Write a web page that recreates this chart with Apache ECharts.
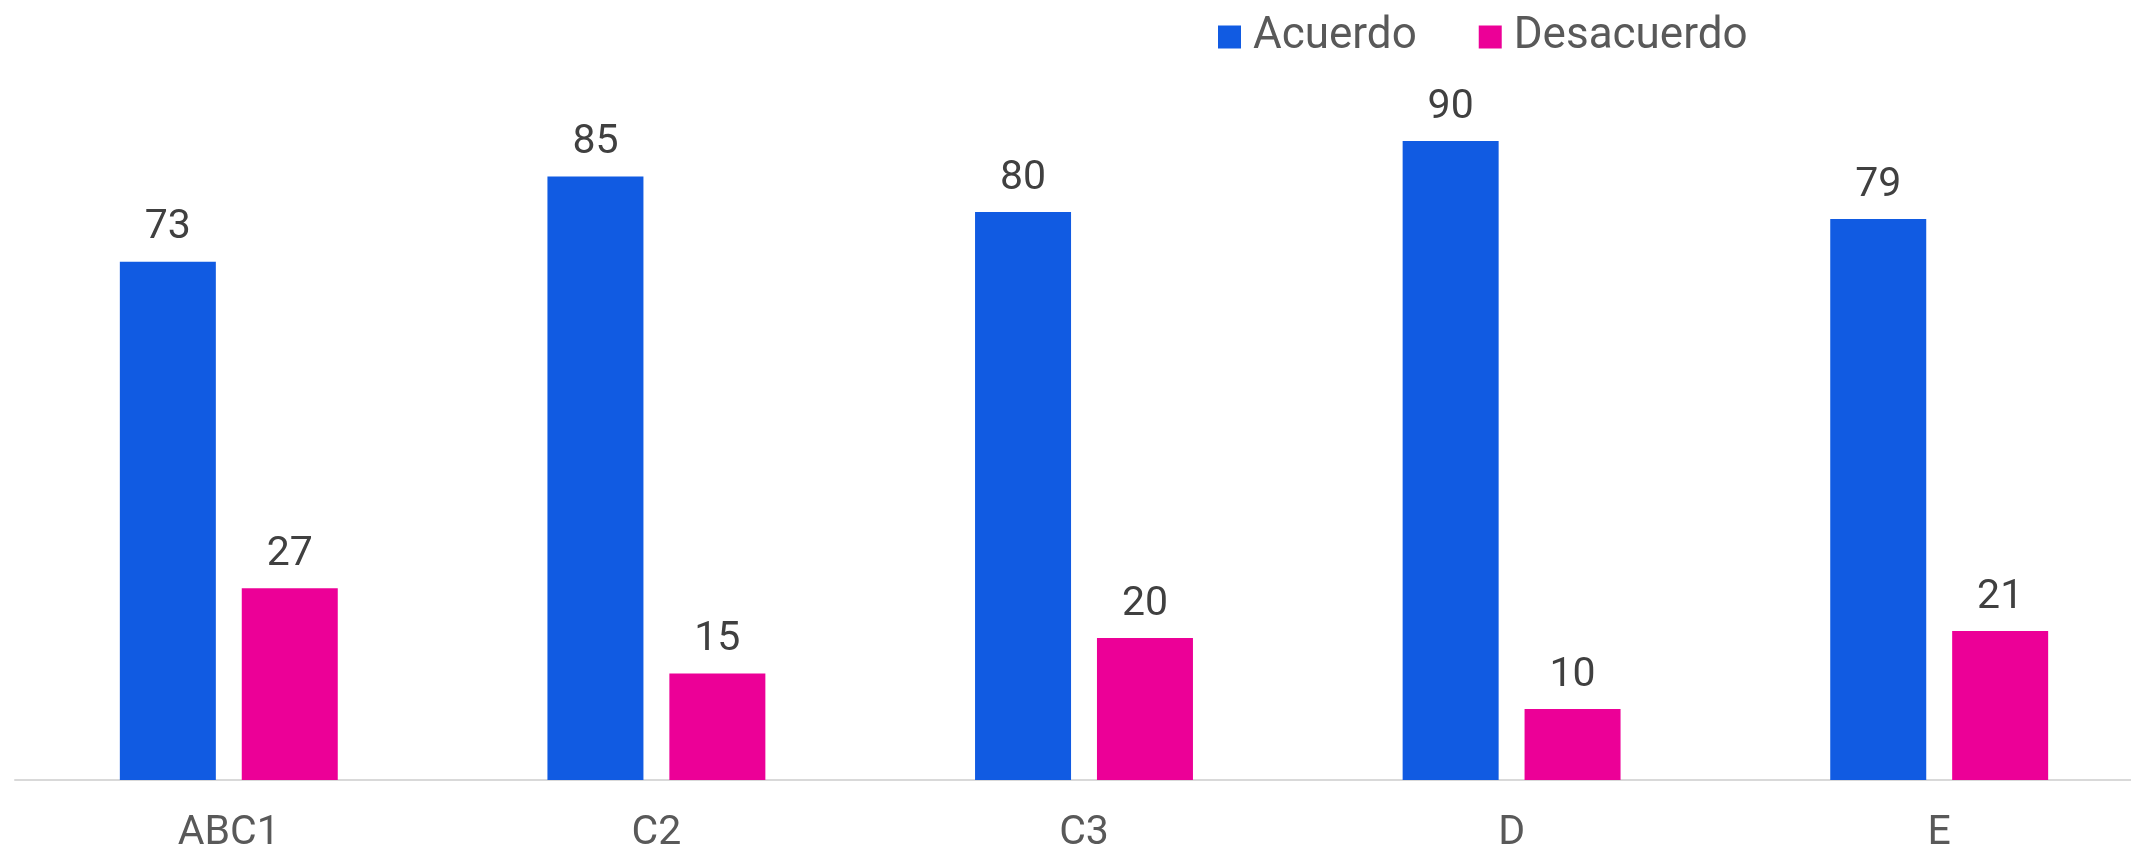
<!DOCTYPE html>
<html><head><meta charset="utf-8">
<script src="https://cdn.jsdelivr.net/npm/echarts@6/dist/echarts.min.js"></script>
<style>html,body{margin:0;padding:0;background:#fff}#c{width:2131px;height:852px}</style>
</head><body><div id="c"></div>
<script>
const categories = ['ABC1', 'C2', 'C3', 'D', 'E'];
const acuerdo = [73, 85, 80, 90, 79];
const desacuerdo = [27, 15, 20, 10, 21];
const seriesNames = ['Acuerdo', 'Desacuerdo'];

const chart = echarts.init(document.getElementById('c'), null, {renderer: 'canvas'});
const font = 'Roboto, "Noto Sans", sans-serif';
const labelStyle = {show: true, position: 'top', distance: 13, color: '#404040', fontSize: 41, fontFamily: font};
chart.setOption({
  animation: false,
  textStyle: {fontFamily: font},
  legend: {
    data: seriesNames, top: 10, left: 1213, itemWidth: 23, itemHeight: 23, itemGap: 62,
    icon: 'rect',
    textStyle: {fontSize: 44, color: '#595959', padding: [0, 0, 0, 7]}
  },
  grid: {left: 15, width: 2138, top: 70, bottom: 72, containLabel: false, outerBoundsMode: 'none'},
  xAxis: {
    type: 'category', data: categories,
    axisLine: {lineStyle: {color: '#d9d9d9', width: 2}},
    axisTick: {show: false},
    axisLabel: {color: '#595959', fontSize: 41, margin: 33}
  },
  yAxis: {type: 'value', min: 0, max: 100, show: false, splitLine: {show: false}},
  series: [
    {name: seriesNames[0], type: 'bar', data: acuerdo, barWidth: 96, barGap: '27%', itemStyle: {color: '#115BE2'}, label: labelStyle},
    {name: seriesNames[1], type: 'bar', data: desacuerdo, barWidth: 96, itemStyle: {color: '#EC0097'}, label: labelStyle}
  ]
});
</script></body></html>
